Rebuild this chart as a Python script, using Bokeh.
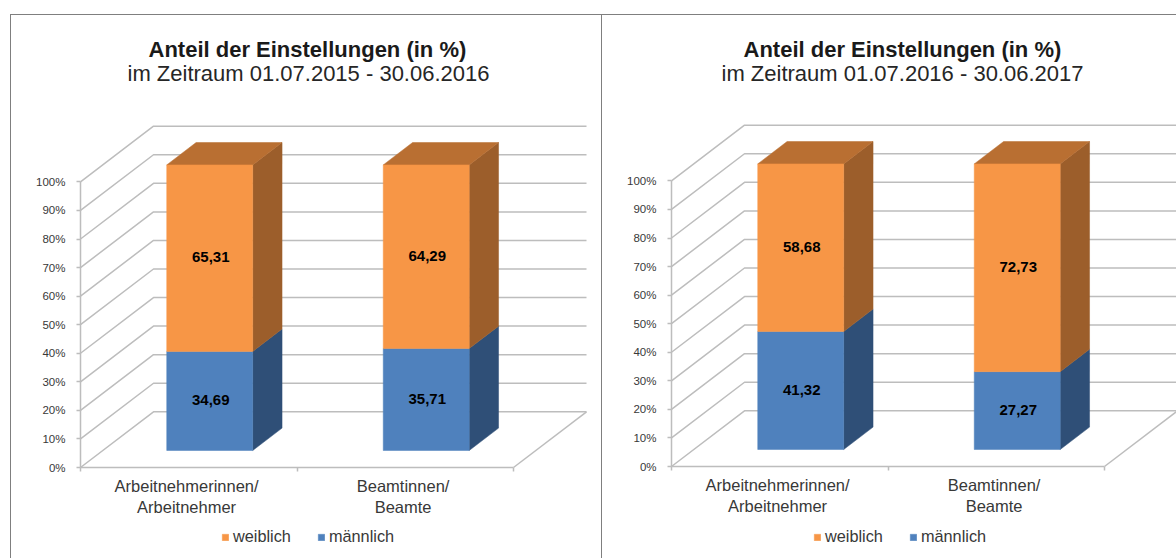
from bokeh.embed import file_html
from bokeh.resources import INLINE
from bokeh.layouts import row
from bokeh.models import (FixedTicker, Legend, LegendItem, LinearAxis, Range1d, Title)
from bokeh.plotting import figure
from bokeh.core.properties import value

title_main = "Anteil der Einstellungen (in %)"
subtitle_left = "im Zeitraum 01.07.2015 - 30.06.2016"
subtitle_right = "im Zeitraum 01.07.2016 - 30.06.2017"
categories = ["Arbeitnehmerinnen/\nArbeitnehmer", "Beamtinnen/\nBeamte"]
maennlich_left = [34.69, 35.71]
weiblich_left = [65.31, 64.29]
maennlich_right = [41.32, 27.27]
weiblich_right = [58.68, 72.73]
y_ticks = [0, 10, 20, 30, 40, 50, 60, 70, 80, 90, 100]
y_tick_labels = ["0%", "10%", "20%", "30%", "40%", "50%", "60%", "70%", "80%", "90%", "100%"]

PX_X = 216.5            # pixels per category
PX_Y = 2.856            # pixels per percent
DX = 73 / PX_X          # oblique depth, in x units
DY = 55.7 / PX_Y        # oblique depth, in percent
D1, D2 = 0.305, 0.707   # depth of the bar's front and back planes
BAR_W = 0.397
BAR_SHIFT = -0.006
LABEL_SHIFT = -0.01

ORANGE = ("#F79646", "#B96F32", "#9C5E2B")
BLUE = ("#4F81BD", "#3A5F8A", "#2F4F77")
GRID = "#BDBDBD"
TEXT = "#383838"
BORDER = "#7F7F7F"
FONT = "Liberation Sans"


def px(u, d):
    return u + d * DX


def py(v, d):
    return v + d * DY


def line(col, x, y, w, h):
    return f"linear-gradient({col},{col}) {x}px {y}px/{w}px {h}px no-repeat"


def chart(men, women, subtitle, width, left, bottom, t1_off, t2_off, leg_x, frame_lines):
    height = 558
    top = 82
    fh = height - top
    p = figure(frame_width=width, frame_height=fh, output_backend="svg", toolbar_location=None,
               x_axis_type=None, y_axis_type=None,
               x_range=Range1d(-left / PX_X, (width - left) / PX_X),
               y_range=Range1d(-bottom / PX_Y, (fh - bottom) / PX_Y),
               min_border_left=0, min_border_right=0, min_border_bottom=0,
               min_border_top=top, outline_line_color=None, title=None,
               border_fill_color=None, background_fill_color=None,
               styles={"background": ",".join(frame_lines)})
    p.xgrid.visible = False
    p.ygrid.visible = False

    # titles
    p.add_layout(Title(text=subtitle, text_font=FONT, text_font_size="22px", text_font_style="normal",
                       text_color="#262626", align="left", offset=t2_off, standoff=-6), "above")
    p.add_layout(Title(text=title_main, text_font=FONT, text_font_size="22px", text_font_style="bold",
                       text_color="#1a1a1a", align="left", offset=t1_off, standoff=0), "above")

    # axes
    yax = LinearAxis(ticker=FixedTicker(ticks=y_ticks), bounds=(0, 100), fixed_location=0,
                     major_label_overrides=dict(zip(y_ticks, y_tick_labels)),
                     axis_line_color=GRID, axis_line_width=1.5, major_tick_line_color=GRID,
                     major_tick_line_width=1.5, major_tick_in=0, major_tick_out=4, minor_tick_out=0,
                     major_label_text_font=FONT, major_label_text_font_size="11.5px",
                     major_label_text_color=TEXT, major_label_standoff=11)
    p.add_layout(yax, "left")
    centers = [i + 0.5 for i in range(len(categories))]
    label_pos = [c + LABEL_SHIFT for c in centers]
    boundaries = list(range(len(categories) + 1))
    xax = LinearAxis(ticker=FixedTicker(ticks=label_pos, minor_ticks=boundaries), bounds=(0, len(categories)),
                     fixed_location=0,
                     major_label_overrides=dict(zip(label_pos, categories)),
                     axis_line_color=GRID, axis_line_width=1.5, major_tick_in=0, major_tick_out=0,
                     minor_tick_line_color=GRID, minor_tick_line_width=1.5, minor_tick_in=0, minor_tick_out=4,
                     major_label_text_font=FONT, major_label_text_font_size="16.5px",
                     major_label_text_color=TEXT, major_label_standoff=5)
    p.add_layout(xax, "below")

    # gridlines of the back wall and the floor
    n = len(categories)
    xs = [[px(0, 0), px(0, 1), px(n, 1)] for _ in y_ticks]
    ys = [[py(v, 0), py(v, 1), py(v, 1)] for v in y_ticks]
    xs.append([px(n, 0), px(n, 1)])
    ys.append([py(0, 0), py(0, 1)])
    p.multi_line(xs, ys, line_color=GRID, line_width=1.5)

    renderers = []
    for series, base, (front, topc, side), is_top in (
        (men, [0] * n, BLUE, False),
        (women, men, ORANGE, True),
    ):
        fx, fy, sx, sy, tx, ty = [], [], [], [], [], []
        lx, ly, lt = [], [], []
        for c, val, b in zip(centers, series, base):
            cc = c + BAR_SHIFT
            x0, x1 = cc - BAR_W / 2, cc + BAR_W / 2
            fx.append([px(x0, D1), px(x1, D1), px(x1, D1), px(x0, D1)])
            fy.append([py(b, D1), py(b, D1), py(b + val, D1), py(b + val, D1)])
            sx.append([px(x1, D1), px(x1, D2), px(x1, D2), px(x1, D1)])
            sy.append([py(b, D1), py(b, D2), py(b + val, D2), py(b + val, D1)])
            tx.append([px(x0, D1), px(x1, D1), px(x1, D2), px(x0, D2)])
            ty.append([py(b + val, D1), py(b + val, D1), py(b + val, D2), py(b + val, D2)])
            lx.append(px(cc, D1))
            ly.append(py(b + val / 2, D1))
            lt.append(f"{val:.2f}".replace(".", ","))
        p.patches(sx, sy, fill_color=side, line_color=side, line_width=0.5)
        if is_top:
            p.patches(tx, ty, fill_color=topc, line_color=topc, line_width=0.5)
        r = p.patches(fx, fy, fill_color=front, line_color=front, line_width=0.5)
        renderers.append(r)
        p.text(lx, ly, text=lt, text_align="center", text_baseline="middle",
               text_font=value(FONT), text_font_size="15px", text_font_style="bold", text_color="#000000",
               x_offset=1, y_offset=-1)

    legend = Legend(items=[LegendItem(label="weiblich", renderers=[renderers[1]]),
                           LegendItem(label="männlich", renderers=[renderers[0]])],
                    orientation="horizontal", location=(leg_x, 12), border_line_color=None,
                    background_fill_alpha=0, glyph_width=8, glyph_height=8, label_standoff=4,
                    spacing=26, padding=2, margin=0,
                    label_text_font=FONT, label_text_font_size="16.3px", label_text_color=TEXT)
    p.add_layout(legend, "center")
    return p


left_lines = [line(BORDER, 10, 14, 592, 1.4), line(BORDER, 10, 14, 1.4, 544)]
right_lines = [line(BORDER, 0, 14, 575, 1.4), line(BORDER, 0, 14, 1.4, 544)]
left_chart = chart(maennlich_left, weiblich_left, subtitle_left, 601, 80, 91, 148, 127, 221, left_lines)
right_chart = chart(maennlich_right, weiblich_right, subtitle_right, 575, 70, 92, 142, 120, 212, right_lines)
page = row(left_chart, right_chart, spacing=0)
open("out.html", "w").write(file_html(page, INLINE))
